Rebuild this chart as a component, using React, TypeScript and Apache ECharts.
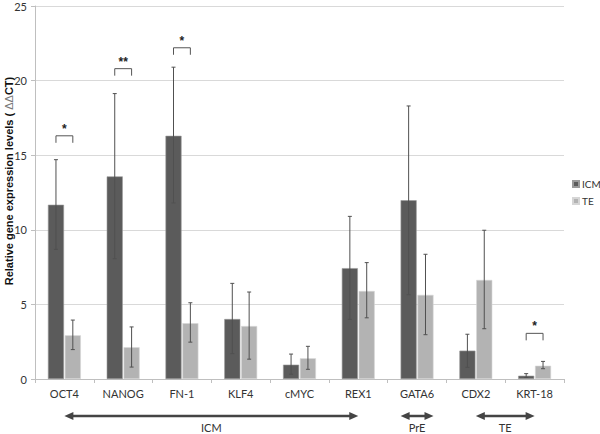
import React, { useEffect, useRef } from "react";
import * as echarts from "echarts";

const categories = ["OCT4", "NANOG", "FN-1", "KLF4", "cMYC", "REX1", "GATA6", "CDX2", "KRT-18"];
const icmValues = [11.68, 13.58, 16.3, 4.02, 0.96, 7.43, 11.98, 1.9, 0.22];
const icmErrLow = [8.69, 8.06, 11.8, 1.7, 0.32, 4.0, 5.65, 0.78, 0.1];
const icmErrHigh = [14.7, 19.13, 20.9, 6.41, 1.67, 10.9, 18.3, 3.0, 0.36];
const teValues = [2.93, 2.13, 3.74, 3.55, 1.39, 5.9, 5.64, 6.64, 0.89];
const teErrLow = [1.97, 0.8, 2.47, 1.33, 0.65, 4.1, 2.97, 3.37, 0.69];
const teErrHigh = [3.95, 3.49, 5.11, 5.83, 2.19, 7.8, 8.36, 9.97, 1.18];
const sigCategory = [0, 1, 2, 8];
const sigLevel = [16.3, 20.8, 22.2, 3.06];
const sigMark = ["*", "**", "*", "*"];
const groupLabels = ["ICM", "PrE", "TE"];
const groupStart = [0, 5.72, 7];
const groupEnd = [5, 6.28, 8];
const yMin = 0;
const yMax = 25;
const yInterval = 5;

const ICM_COLOR = "#5b5b5b";
const TE_COLOR = "#b3b3b3";
const CAT_GAP = 0.44;
const BAR_GAP = 0.05;

function barOffset(catW: number, idx: number) {
  const usable = catW * (1 - CAT_GAP);
  const bw = usable / (2 + BAR_GAP);
  return idx === 0 ? -usable / 2 + bw / 2 : usable / 2 - bw / 2;
}

function errorSeries(name: string, idx: number, low: number[], high: number[]) {
  return {
    type: "custom",
    name,
    z: 5,
    data: categories.map((_, i) => [i, low[i], high[i]]),
    renderItem: (params: any, api: any) => {
      const c = api.value(0);
      const lo = api.coord([c, api.value(1)]);
      const hi = api.coord([c, api.value(2)]);
      const catW = api.size([1, 0])[0];
      const x = lo[0] + barOffset(catW, idx);
      const cap = 2;
      const style = { stroke: "#505050", lineWidth: 1, fill: null };
      return {
        type: "group",
        children: [
          { type: "line", shape: { x1: x, y1: lo[1], x2: x, y2: hi[1] }, style },
          { type: "line", shape: { x1: x - cap, y1: lo[1], x2: x + cap, y2: lo[1] }, style },
          { type: "line", shape: { x1: x - cap, y1: hi[1], x2: x + cap, y2: hi[1] }, style },
        ],
      };
    },
  };
}

export default function App() {
  const ref = useRef<HTMLDivElement>(null);
  useEffect(() => {
    if (!ref.current) return;
    const chart = echarts.init(ref.current, null, { renderer: "svg" });
    const font = "Lato, 'Open Sans', sans-serif";
    chart.setOption({
      animation: false,
      textStyle: { fontFamily: font },
      grid: { left: 35, right: 36, top: 6, bottom: 55 },
      legend: {
        data: ["ICM", "TE"],
        orient: "vertical",
        left: 572,
        top: 179,
        padding: 0,
        icon: "rect",
        itemWidth: 6,
        itemHeight: 6,
        itemGap: 7,
        textStyle: { fontSize: 10, color: "#333", fontFamily: font, padding: [0, 0, 0, -2] },
      },
      xAxis: {
        type: "category",
        data: categories,
        axisLine: { lineStyle: { color: "#bfbfbf" } },
        axisTick: { show: true, length: 4, lineStyle: { color: "#bfbfbf" } },
        axisLabel: { fontSize: 11, color: "#333", margin: 9, fontFamily: font },
      },
      yAxis: {
        type: "value",
        min: yMin,
        max: yMax,
        interval: yInterval,
        axisLine: { show: true, lineStyle: { color: "#bfbfbf" } },
        axisTick: { show: true, length: 4, lineStyle: { color: "#bfbfbf" } },
        axisLabel: { fontSize: 11, color: "#333", margin: 8, fontFamily: font },
        splitLine: { lineStyle: { color: "#d9d9d9" } },
      },
      series: [
        {
          type: "bar",
          name: "ICM",
          data: icmValues,
          barCategoryGap: CAT_GAP * 100 + "%",
          barGap: BAR_GAP * 100 + "%",
          itemStyle: { color: ICM_COLOR, borderColor: "#9a9a9a", borderWidth: 0.6 },
        },
        {
          type: "bar",
          name: "TE",
          data: teValues,
          barCategoryGap: CAT_GAP * 100 + "%",
          barGap: BAR_GAP * 100 + "%",
          itemStyle: { color: TE_COLOR, borderColor: "#d6d6d6", borderWidth: 0.6 },
        },
        errorSeries("ICM err", 0, icmErrLow, icmErrHigh),
        errorSeries("TE err", 1, teErrLow, teErrHigh),
        {
          type: "custom",
          name: "sig",
          z: 6,
          data: sigCategory.map((c, i) => [c, sigLevel[i], sigMark[i]]),
          renderItem: (params: any, api: any) => {
            const c = api.value(0);
            const p = api.coord([c, api.value(1)]);
            const catW = api.size([1, 0])[0];
            const x1 = p[0] + barOffset(catW, 0);
            const x2 = p[0] + barOffset(catW, 1);
            const y = p[1];
            const leg = 7;
            const mark = sigMark[params.dataIndex];
            return {
              type: "group",
              children: [
                {
                  type: "polyline",
                  shape: { points: [[x1, y + leg], [x1, y], [x2, y], [x2, y + leg]] },
                  style: { stroke: "#555", lineWidth: 1, fill: null },
                },
                {
                  type: "text",
                  style: {
                    text: mark,
                    x: (x1 + x2) / 2,
                    y: y - 1,
                    align: "center",
                    verticalAlign: "bottom",
                    fontSize: 12,
                    fontWeight: "bold",
                    fill: "#222",
                    fontFamily: "'Liberation Sans', Arial, sans-serif",
                  },
                },
              ],
            };
          },
        },
      ],
    });

    const catPx = (i: number) => chart.convertToPixel({ xAxisIndex: 0 }, i) as number;
    const cw = catPx(1) - catPx(0);
    const posPx = (v: number) => {
      const f = Math.floor(v);
      return catPx(f) + (v - f) * cw;
    };
    const arrowY = 416;
    const head = 9;
    const headH = 4;
    const arrowColor = "#444";
    const graphics: any[] = [];
    groupLabels.forEach((lab, i) => {
      const xa = posPx(groupStart[i]);
      const xb = posPx(groupEnd[i]);
      graphics.push({
        type: "line",
        shape: { x1: xa + head - 1, y1: arrowY, x2: xb - head + 1, y2: arrowY },
        style: { stroke: arrowColor, lineWidth: 2.5 },
      });
      graphics.push({
        type: "polygon",
        shape: { points: [[xa, arrowY], [xa + head, arrowY - headH], [xa + head, arrowY + headH]] },
        style: { fill: arrowColor },
      });
      graphics.push({
        type: "polygon",
        shape: { points: [[xb, arrowY], [xb - head, arrowY - headH], [xb - head, arrowY + headH]] },
        style: { fill: arrowColor },
      });
      graphics.push({
        type: "text",
        x: (xa + xb) / 2,
        y: 427,
        style: {
          text: lab,
          align: "center",
          verticalAlign: "middle",
          fontSize: 11,
          fill: "#333",
          fontFamily: font,
        },
      });
    });
    graphics.push({
      type: "text",
      x: 9,
      y: 181,
      rotation: Math.PI / 2,
      style: {
        text: "{b|Relative gene expression levels ( }{d|ΔΔ}{b|CT)}",
        align: "center",
        verticalAlign: "middle",
        rich: {
          b: { fontSize: 11, fontWeight: "bold", fill: "#111", fontFamily: "'Liberation Sans', Arial, sans-serif" },
          d: { fontSize: 11, fill: "#777", fontFamily: "'Liberation Sans', Arial, sans-serif" },
        },
      },
    });
    chart.setOption({ graphic: graphics });

    return () => chart.dispose();
  }, []);
  return <div ref={ref} style={{ width: 600, height: 434, position: "absolute", left: 0, top: 0 }} />;
}
